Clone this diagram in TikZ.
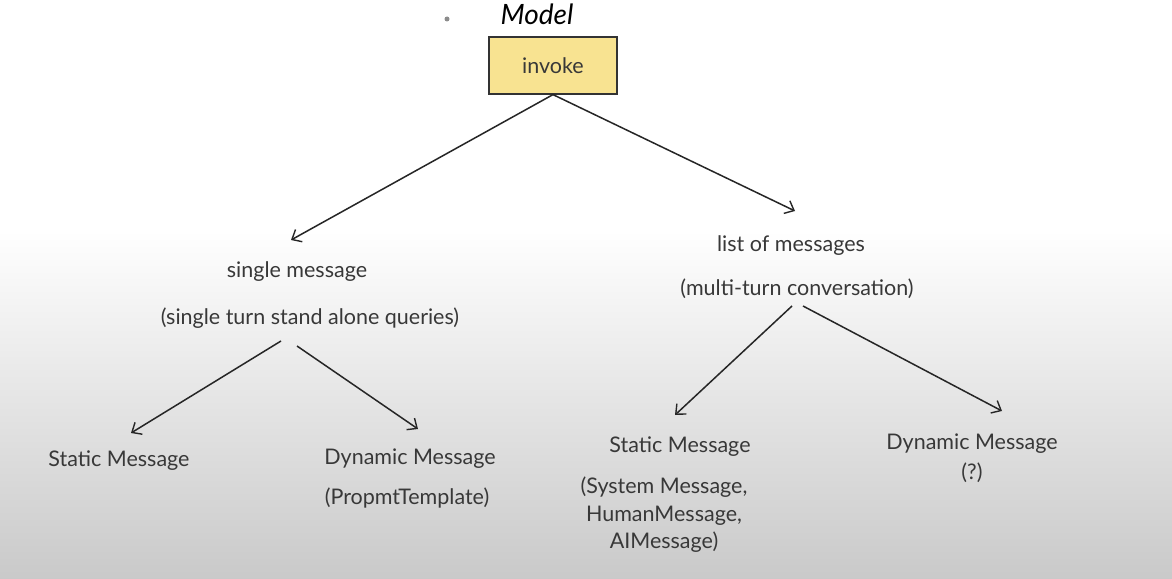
\documentclass[tikz,border=0pt]{standalone}
\usepackage{fontspec}
\setmainfont{Lato}
\usetikzlibrary{arrows.meta}
\definecolor{txt}{HTML}{383838}
\definecolor{boxfill}{HTML}{F8E391}
\begin{document}
\begin{tikzpicture}[x=1pt,y=-1pt,
  lbl/.style={text=txt,font=\fontsize{21.5}{28}\selectfont,inner sep=0pt,align=center},
  conn/.style={draw=black!85,line width=1.5pt,-{Straight Barb[length=8pt,width=14pt,line width=1.4pt]}}]
\useasboundingbox (0,0) rectangle (1172,578);
\fill[white] (0,0) rectangle (1172,230);
\shade[top color=white,bottom color=black!21] (0,230) rectangle (1172,578);
% title
\node[inner sep=0pt,text=black,font=\fontsize{28}{28}\selectfont\itshape] (model) at (537,14) {Model};
\fill[black!45] (447,19) circle (2.5);
\node[draw=black!80,fill=boxfill,line width=1.2pt,minimum width=128pt,minimum height=57pt,inner sep=0pt,text=txt,font=\fontsize{21.5}{21.5}\selectfont] (invoke) at (553,65.5) {invoke};
% level 1
\node[lbl] (single) at (297,272) {single message};
\node[lbl] (singlesub) at (310,318) {(single turn stand alone queries)};
\node[lbl] (list) at (791,246) {list of messages};
\node[lbl] (listsub) at (797,289) {(multi-turn conversation)};
% level 2 left
\node[lbl] (sstatic) at (119,461) {Static Message};
\node[lbl] (sdyn) at (410,459) {Dynamic Message};
\node[lbl] (sdynsub) at (407,498) {(PropmtTemplate)};
% level 2 right
\node[lbl] (lstatic) at (680,447) {Static Message};
\node[lbl,font=\fontsize{21.5}{27.5}\selectfont] (lstaticsub) at (664,515) {(System Message,\\HumanMessage,\\AIMessage)};
\node[lbl] (ldyn) at (972,444) {Dynamic Message};
\node[lbl] (ldynsub) at (972,473) {(?)};
% connector ends
\coordinate (a1) at (291,240);
\coordinate (a2) at (795,211);
\coordinate (s1) at (281,341);
\coordinate (s2) at (297,346);
\coordinate (b1) at (131,433);
\coordinate (b2) at (418,429);
\coordinate (l1) at (792,306);
\coordinate (l2) at (803,306);
\coordinate (c1) at (675,415);
\coordinate (c2) at (1002,411);
\draw[conn] (invoke.south) -- (a1);
\draw[conn] (invoke.south) -- (a2);
\draw[conn] (s1) -- (b1);
\draw[conn] (s2) -- (b2);
\draw[conn] (l1) -- (c1);
\draw[conn] (l2) -- (c2);
\end{tikzpicture}
\end{document}
